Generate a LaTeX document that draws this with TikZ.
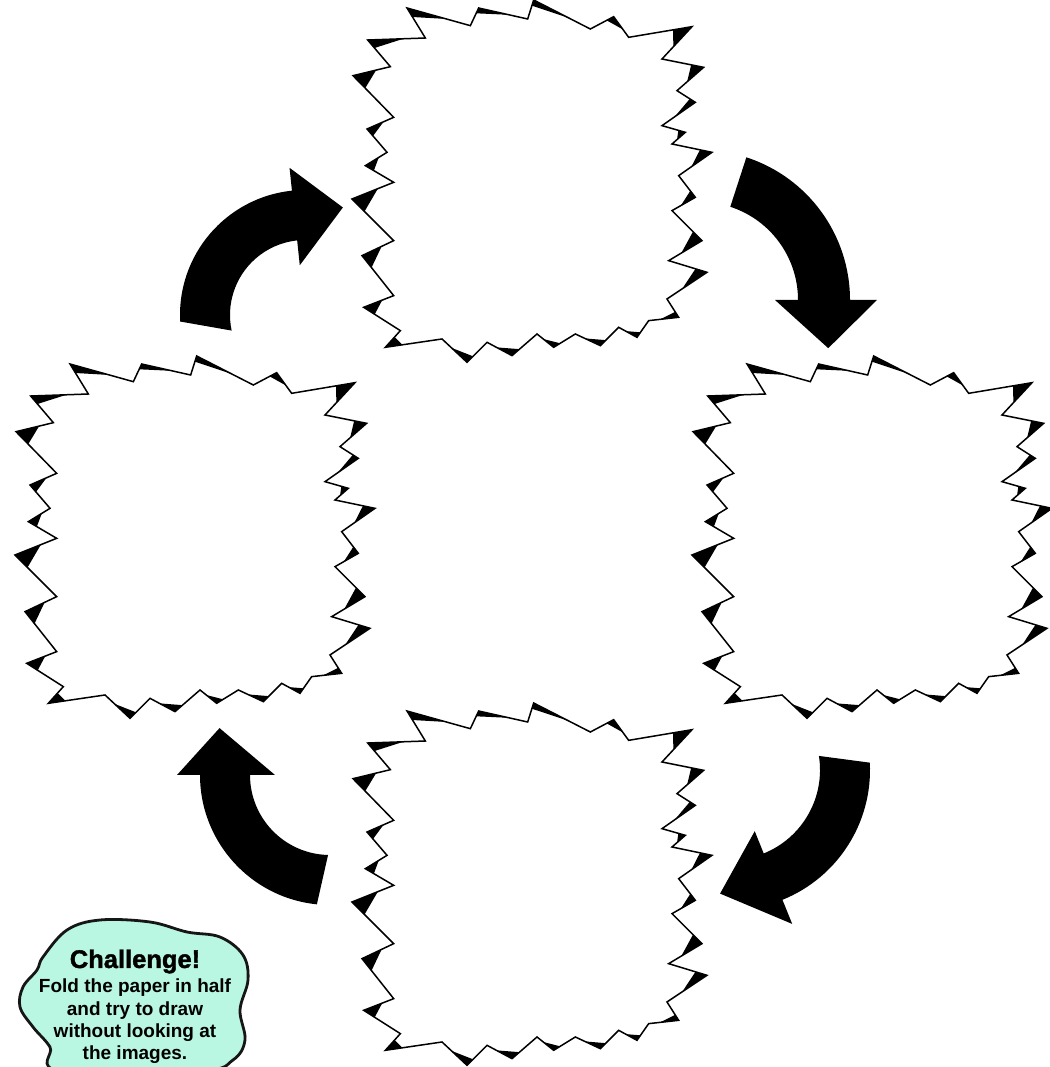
\documentclass[tikz,border=0pt]{standalone}
\usepackage{fontspec}
\setsansfont{Liberation Sans}
\newfontfamily\titlefont[BoldFeatures={FakeBold=1.6}]{Liberation Sans}
\usetikzlibrary{calc,positioning}
\definecolor{mint}{HTML}{B9F7E3}
\definecolor{inkblk}{HTML}{161616}
\tikzset{
  jag/.style={draw=black, fill=white, line width=1.5pt, line join=miter, miter limit=8},
  ink/.style={fill=black},
  curvearr/.style={fill=black, draw=none},
  blob/.style={draw=inkblk, fill=mint, line width=2.8pt, line join=round},
  lab/.style={font=\sffamily\bfseries, text=black, align=center, inner sep=0pt}
}
% one jagged frame, same outline for all four
\newcommand{\jagbox}[1]{%
  \begin{scope}[shift={(#1)}, x=0.3333pt, y=-0.3333pt, shift={(-585,-591)}]
    \foreach \vx/\vy [count=\i] in {48/275, 160/248, 92/168, 265/162, 210/72, 400/125,
      425/72, 572/105, 590/48, 760/135, 830/98, 875/160, 1065/128, 975/225, 1100/250,
      1020/320, 1075/355, 975/425, 1045/445, 1005/480, 1125/505, 1025/575, 1075/640,
      1005/680, 1095/770, 995/830, 1110/865, 990/945, 1025/1000, 935/1010, 900/1060,
      845/1030, 790/1085, 715/1050, 650/1090, 600/1050, 525/1115, 450/1075, 390/1135,
      315/1065, 145/1090, 190/1040, 80/970, 170/935, 75/815, 170/770, 45/645, 170/595,
      85/545, 150/505, 90/435, 170/400}
      \coordinate (j\i) at (\vx,\vy);
    \draw[jag] (j1) \foreach \i in {2,...,52}{ -- (j\i)} -- cycle;
    \foreach \i in {1,3,...,51}{
      \pgfmathtruncatemacro\jp{\i==1 ? 52 : \i-1}
      \pgfmathtruncatemacro\jn{\i+1}
      \fill[ink] (j\i) -- ($(j\i)!0.62!(j\jn)$) -- ($(j\i)!0.3!(j\jp)$) -- cycle;
    }
  \end{scope}}

\begin{document}
\begin{tikzpicture}[x=1pt, y=1pt]
  \useasboundingbox (0,0) rectangle (1049,1067);
  \fill[white] (0,0) rectangle (1049,1067);

  % frames
  \coordinate (topbox) at (532,886);
  \coordinate (rightbox) at (872,530);
  \coordinate (bottombox) at (532,183);
  \coordinate (leftbox) at (195,530);
  \jagbox{topbox}
  \jagbox{rightbox}
  \jagbox{bottombox}
  \jagbox{leftbox}

  % cycle arrows
  \coordinate (pivotA) at (700,767);
  \coordinate (pivotB) at (730,297);
  \coordinate (pivotC) at (330,292);
  \coordinate (pivotD) at (305,752);
  \fill[curvearr, shift={(pivotA)}] (72:98) arc[start angle=72, end angle=0, radius=98]
    -- (0:75) -- (-20.6:137) -- (0:177) -- (0:150) arc[start angle=0, end angle=72, radius=150] -- cycle;
  \fill[curvearr, shift={(pivotB)}] (9:90) arc[start angle=9, end angle=-68, radius=90]
    -- (-68:66) -- (-94.6:124) -- (-68:166) -- (-68:140) arc[start angle=-68, end angle=3, radius=140] -- cycle;
  \fill[curvearr, shift={(pivotC)}] (-91.4:80) arc[start angle=-91.4, end angle=-180, radius=80]
    -- (180:55) -- (157:120) -- (180:153) -- (180:130) arc[start angle=180, end angle=264.2, radius=130] -- cycle;
  \fill[curvearr, shift={(pivotD)}] (192:75) arc[start angle=192, end angle=96, radius=75]
    -- (96:50) -- (70.6:114) -- (96:148) -- (96:125) arc[start angle=96, end angle=183, radius=125] -- cycle;

  % challenge note
  \draw[blob] plot[smooth cycle, tension=0.6] coordinates {(43,110) (67,137) (100,147) (150,145)
    (187,135) (220,130) (243,112) (248,87) (240,57) (245,27) (233,7) (200,-4) (60,-4)
    (50,20) (33,40) (20,60) (23,80) (37,97)};
  \node[lab, font=\titlefont\bfseries\fontsize{25.5}{28}\selectfont, anchor=base] (chtitle) at (135,99) {Challenge!};
  \node[lab, font=\sffamily\bfseries\fontsize{19}{22.3}\selectfont, anchor=north] (chbody) at (135,88)
    {Fold the paper in half\\and try to draw\\without looking at\\the images.};
\end{tikzpicture}
\end{document}
